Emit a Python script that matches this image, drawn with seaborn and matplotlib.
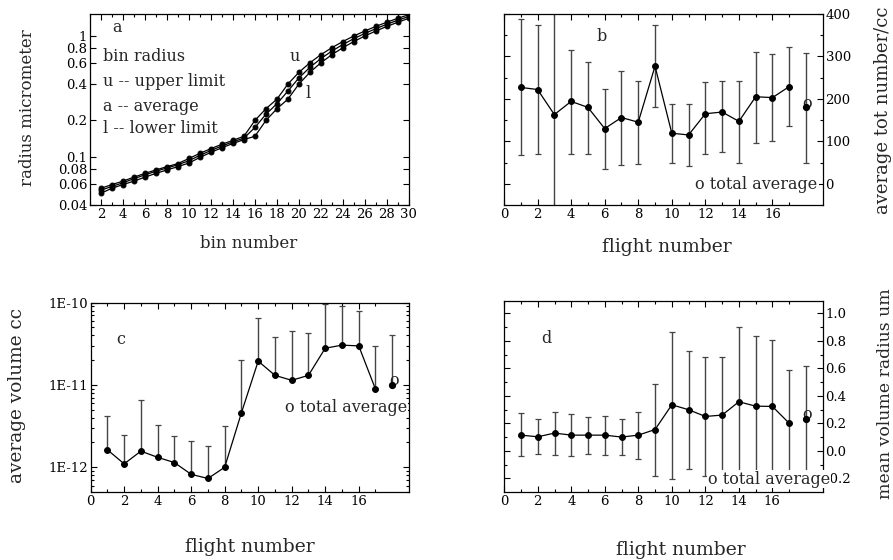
import numpy as np
import pandas as pd
import matplotlib
matplotlib.use("Agg")
import matplotlib.pyplot as plt
import seaborn as sns
from matplotlib.ticker import FixedLocator, FixedFormatter, NullFormatter, LogLocator

# ---- panel a: bin radius limits ----
bins = list(range(2, 31))
r_upper = [0.055, 0.059, 0.063, 0.068, 0.073, 0.078, 0.083, 0.088, 0.097, 0.107,
           0.117, 0.127, 0.137, 0.148, 0.20, 0.25, 0.30, 0.40, 0.50, 0.60,
           0.70, 0.80, 0.90, 1.00, 1.10, 1.20, 1.30, 1.40, 1.50]
r_avg = [0.053, 0.057, 0.061, 0.066, 0.071, 0.076, 0.081, 0.086, 0.093, 0.103,
         0.113, 0.123, 0.133, 0.143, 0.175, 0.225, 0.275, 0.35, 0.45, 0.55,
         0.65, 0.75, 0.85, 0.95, 1.05, 1.15, 1.25, 1.35, 1.45]
r_lower = [0.050, 0.055, 0.059, 0.063, 0.068, 0.073, 0.078, 0.083, 0.089, 0.099,
           0.109, 0.119, 0.129, 0.139, 0.148, 0.20, 0.25, 0.30, 0.40, 0.50,
           0.60, 0.70, 0.80, 0.90, 1.00, 1.10, 1.20, 1.30, 1.40]

# ---- flights ----
flights = list(range(1, 18))
total_flight = 18

# panel b: total number concentration
num_mean = [227, 222, 163, 194, 180, 130, 156, 145, 277, 119, 115, 165, 169, 147, 205, 203, 229]
num_hi = [388, 375, 450, 314, 286, 224, 265, 243, 373, 189, 189, 239, 241, 243, 311, 305, 322]
num_lo = [67, 69, -120, 71, 71, 34, 45, 46, 180, 49, 41, 69, 75, 50, 97, 101, 137]
num_tot, num_tot_lo, num_tot_hi = 180, 50, 308

# panel c: average particle volume
vol_mean = [1.63e-12, 1.10e-12, 1.57e-12, 1.32e-12, 1.14e-12, 8.2e-13, 7.3e-13, 1.0e-12,
            4.6e-12, 1.95e-11, 1.31e-11, 1.14e-11, 1.31e-11, 2.8e-11, 3.05e-11, 2.99e-11, 8.9e-12]
vol_hi = [4.2e-12, 2.44e-12, 6.56e-12, 3.25e-12, 2.41e-12, 2.07e-12, 1.82e-12, 3.2e-12,
          2.02e-11, 6.45e-11, 3.85e-11, 4.48e-11, 4.24e-11, 9.6e-11, 9.0e-11, 7.85e-11, 2.99e-11]
vol_tot, vol_tot_hi = 1.0e-11, 4.04e-11

# panel d: mean volume radius
rad_mean = [0.114, 0.102, 0.129, 0.114, 0.114, 0.114, 0.100, 0.114, 0.155, 0.335,
            0.299, 0.250, 0.260, 0.357, 0.325, 0.323, 0.201]
rad_hi = [0.272, 0.228, 0.284, 0.267, 0.248, 0.255, 0.233, 0.284, 0.488, 0.866,
          0.728, 0.684, 0.680, 0.903, 0.837, 0.808, 0.585]
rad_lo = [-0.039, -0.024, -0.027, -0.041, -0.024, -0.034, -0.032, -0.061, -0.182, -0.206,
          -0.136, -0.182, -0.160, -0.206, -0.197, -0.190, -0.190]
rad_tot, rad_tot_lo, rad_tot_hi = 0.231, -0.153, 0.617

sns.set_style("ticks")
plt.rcParams["font.family"] = ["DejaVu Serif"]
plt.rcParams["axes.unicode_minus"] = False
plt.rcParams["axes.linewidth"] = 0.9
plt.rcParams["xtick.direction"] = "in"
plt.rcParams["ytick.direction"] = "in"

NOTE_FS = 11.5
TICK_FS = 9.5
ERR_COLOR = "#454545"

fig = plt.figure(figsize=(8.93, 5.6), dpi=100)
ax_a = fig.add_axes([0.1008, 0.634, 0.357, 0.341])
ax_b = fig.add_axes([0.5644, 0.634, 0.357, 0.341])
ax_c = fig.add_axes([0.1015, 0.1214, 0.3565, 0.338])
ax_d = fig.add_axes([0.5647, 0.1214, 0.3565, 0.341])


def frame_ticks(ax):
    ax.tick_params(which="both", direction="in", top=True, bottom=True, left=True, right=True,
                   labelsize=TICK_FS, pad=2, width=0.8, colors="black")
    ax.tick_params(which="major", length=4)
    ax.tick_params(which="minor", length=2.3)
    for s in ax.spines.values():
        s.set_visible(True)
        s.set_color("black")


def place_labels(ax, xlabel, xpos, xfs, ylabel, ypos, yfs, right=False):
    ax.set_xlabel(xlabel, fontsize=xfs)
    ax.xaxis.set_label_coords(*xpos)
    ax.xaxis.label.set_verticalalignment("center")
    if right:
        ax.yaxis.set_label_position("right")
    ax.set_ylabel(ylabel, fontsize=yfs, rotation=90)
    ax.yaxis.set_label_coords(*ypos)
    ax.yaxis.label.set_verticalalignment("center")
    ax.yaxis.label.set_horizontalalignment("center")


# ---------- a ----------
df_a = pd.DataFrame({
    "bin": bins * 3,
    "radius": r_upper + r_avg + r_lower,
    "limit": ["u"] * len(bins) + ["a"] * len(bins) + ["l"] * len(bins),
})
sns.lineplot(data=df_a, x="bin", y="radius", units="limit", estimator=None, ax=ax_a,
             color="black", lw=0.9, marker="o", markersize=3.5, markeredgecolor="black",
             markerfacecolor="black", legend=False)
ax_a.set_yscale("log")
ax_a.set_xlim(1, 30)
ax_a.set_ylim(0.04, 1.52)
a_yticks = [0.04, 0.06, 0.08, 0.1, 0.2, 0.4, 0.6, 0.8, 1]
ax_a.yaxis.set_major_locator(FixedLocator(a_yticks))
ax_a.yaxis.set_major_formatter(FixedFormatter(["0.04", "0.06", "0.08", "0.1", "0.2",
                                               "0.4", "0.6", "0.8", "1"]))
ax_a.yaxis.set_minor_locator(FixedLocator([]))
ax_a.yaxis.set_minor_formatter(NullFormatter())
ax_a.xaxis.set_major_locator(FixedLocator(list(range(2, 31, 2))))
ax_a.xaxis.set_minor_locator(FixedLocator(list(range(1, 31, 2))))
frame_ticks(ax_a)
place_labels(ax_a, "bin number", (0.498, -0.204), 12, "radius micrometer", (-0.197, 0.508), 12)
ax_a.text(0.085, 0.93, "a", transform=ax_a.transAxes, fontsize=NOTE_FS, ha="center", va="center")
for txt, yy in [("bin radius", 0.775), ("u -- upper limit", 0.649),
                ("a -- average", 0.518), ("l -- lower limit", 0.398)]:
    ax_a.text(0.041, yy, txt, transform=ax_a.transAxes, fontsize=NOTE_FS, ha="left", va="center")
ax_a.text(0.643, 0.775, "u", transform=ax_a.transAxes, fontsize=NOTE_FS, ha="center", va="center")
ax_a.text(0.683, 0.586, "l", transform=ax_a.transAxes, fontsize=NOTE_FS, ha="center", va="center")


def flight_series(ax, mean, lo, hi, tot, tot_lo, tot_hi):
    mean = np.asarray(mean, dtype=float)
    ax.errorbar(flights, mean, yerr=[mean - np.asarray(lo), np.asarray(hi) - mean],
                fmt="none", ecolor=ERR_COLOR, elinewidth=1.0, capsize=2.2, capthick=0.9, zorder=2)
    df = pd.DataFrame({"flight": flights, "value": mean})
    sns.lineplot(data=df, x="flight", y="value", ax=ax, color="black", lw=0.9, marker="o",
                 markersize=4.2, markeredgecolor="black", markerfacecolor="black", zorder=3)
    ax.errorbar([total_flight], [tot], yerr=[[tot - tot_lo], [tot_hi - tot]], fmt="o",
                color="black", ecolor=ERR_COLOR, ms=4.2, elinewidth=1.0, capsize=2.2,
                capthick=0.9, zorder=3)
    ax.annotate("o", (total_flight, tot), xytext=(1, 3), textcoords="offset points",
                fontsize=NOTE_FS, ha="center", va="center")
    ax.set_xlim(0, 19)
    ax.xaxis.set_major_locator(FixedLocator(list(range(0, 17, 2))))
    ax.xaxis.set_minor_locator(FixedLocator(list(range(1, 18, 2))))


def total_note(ax, x, y):
    ax.text(x, y, "o total average", transform=ax.transAxes, fontsize=NOTE_FS, ha="right",
            va="center", clip_on=False, zorder=10,
            bbox=dict(facecolor="white", edgecolor="none", pad=0.6))


# ---------- b ----------
flight_series(ax_b, num_mean, num_lo, num_hi, num_tot, num_tot_lo, num_tot_hi)
ax_b.set_ylim(-50, 400)
ax_b.yaxis.set_major_locator(FixedLocator([0, 100, 200, 300, 400]))
ax_b.yaxis.set_minor_locator(FixedLocator([-50, 50, 150, 250, 350]))
frame_ticks(ax_b)
ax_b.tick_params(axis="y", which="both", labelleft=False, labelright=True)
place_labels(ax_b, "flight number", (0.511, -0.22), 13.5,
             "average tot number/cc", (1.188, 0.497), 13, right=True)
ax_b.text(0.307, 0.88, "b", transform=ax_b.transAxes, fontsize=NOTE_FS, ha="center", va="center")
total_note(ax_b, 0.984, 0.105)

# ---------- c ----------
vm = np.asarray(vol_mean)
ax_c.errorbar(flights, vm, yerr=[np.zeros_like(vm), np.asarray(vol_hi) - vm], fmt="none",
              ecolor=ERR_COLOR, elinewidth=1.0, capsize=2.2, capthick=0.9, zorder=2)
df_c = pd.DataFrame({"flight": flights, "value": vm})
sns.lineplot(data=df_c, x="flight", y="value", ax=ax_c, color="black", lw=0.9, marker="o",
             markersize=4.2, markeredgecolor="black", markerfacecolor="black", zorder=3)
ax_c.errorbar([total_flight], [vol_tot], yerr=[[0], [vol_tot_hi - vol_tot]], fmt="o",
              color="black", ecolor=ERR_COLOR, ms=4.2, elinewidth=1.0, capsize=2.2,
              capthick=0.9, zorder=3)
ax_c.annotate("o", (total_flight, vol_tot), xytext=(1, 3), textcoords="offset points",
              fontsize=NOTE_FS, ha="center", va="center")
ax_c.set_yscale("log")
ax_c.set_xlim(0, 19)
ax_c.set_ylim(5e-13, 1e-10)
ax_c.xaxis.set_major_locator(FixedLocator(list(range(0, 17, 2))))
ax_c.xaxis.set_minor_locator(FixedLocator(list(range(1, 18, 2))))
ax_c.yaxis.set_major_locator(FixedLocator([1e-12, 1e-11, 1e-10]))
ax_c.yaxis.set_major_formatter(FixedFormatter(["1E-12", "1E-11", "1E-10"]))
ax_c.yaxis.set_minor_locator(LogLocator(base=10, subs=np.arange(2, 10)))
ax_c.yaxis.set_minor_formatter(NullFormatter())
frame_ticks(ax_c)
place_labels(ax_c, "flight number", (0.501, -0.29), 13.5,
             "average volume cc", (-0.232, 0.509), 13.3)
ax_c.text(0.095, 0.808, "c", transform=ax_c.transAxes, fontsize=NOTE_FS, ha="center", va="center")
total_note(ax_c, 0.993, 0.444)

# ---------- d ----------
flight_series(ax_d, rad_mean, rad_lo, rad_hi, rad_tot, rad_tot_lo, rad_tot_hi)
ax_d.set_ylim(-0.3, 1.09)
d_ticks = [-0.2, 0.0, 0.2, 0.4, 0.6, 0.8, 1.0]
ax_d.yaxis.set_major_locator(FixedLocator(d_ticks))
ax_d.yaxis.set_major_formatter(FixedFormatter(["-0.2", "0.0", "0.2", "0.4", "0.6", "0.8", "1.0"]))
ax_d.yaxis.set_minor_locator(FixedLocator([-0.1, 0.1, 0.3, 0.5, 0.7, 0.9]))
frame_ticks(ax_d)
ax_d.tick_params(axis="y", which="both", labelleft=False, labelright=True)
place_labels(ax_d, "flight number", (0.553, -0.304), 13.5,
             "mean volume radius um", (1.196, 0.513), 12.4, right=True)
ax_d.text(0.131, 0.806, "d", transform=ax_d.transAxes, fontsize=NOTE_FS, ha="center", va="center")
total_note(ax_d, 1.023, 0.068)

fig.savefig("out.png", dpi=100, facecolor="white")
